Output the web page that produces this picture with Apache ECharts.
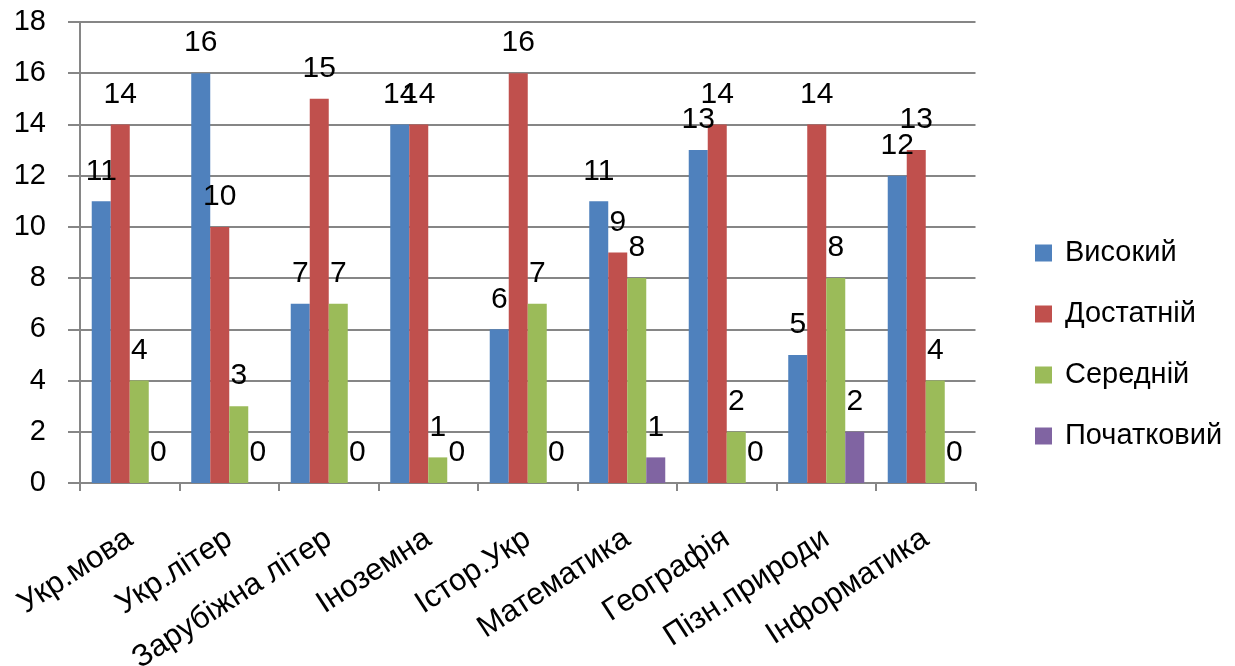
<!DOCTYPE html>
<html>
<head>
<meta charset="utf-8">
<script src="https://cdn.jsdelivr.net/npm/echarts@6/dist/echarts.min.js"></script>
<style>
html,body{margin:0;padding:0;background:#fff;}
#chart{width:1235px;height:666px;}
</style>
</head>
<body>
<div id="chart"></div>
<script>
const categories = ['Укр.мова','Укр.літер','Зарубіжна літер','Іноземна','Істор.Укр','Математика','Географія','Пізн.природи','Інформатика'];
const seriesNames = ['Високий','Достатній','Середній','Початковий'];
const vysokyi = [11,16,7,14,6,11,13,5,12];
const dostatnii = [14,10,15,14,16,9,14,14,13];
const serednii = [4,3,7,1,7,8,2,8,4];
const pochatkovyi = [0,0,0,0,0,1,0,2,0];
const yTicks = [0,2,4,6,8,10,12,14,16,18];
const colors = ['#4F81BD','#C0504D','#9BBB59','#8064A2'];

const FONT = 'Liberation Sans';
const FS = 29;
const gridColor = '#868686';

const seriesData = [vysokyi, dostatnii, serednii, pochatkovyi];

const chart = echarts.init(document.getElementById('chart'));
chart.setOption({
  animation: false,
  color: colors,
  grid: {left: 80, right: 259.5, top: 22, bottom: 183, containLabel: false, outerBoundsMode: 'none'},
  legend: {
    orient: 'vertical',
    left: 1030,
    top: 232,
    icon: 'rect',
    itemWidth: 17,
    itemHeight: 17,
    itemGap: 29,
    data: seriesNames,
    textStyle: {fontFamily: FONT, fontSize: FS, color: '#000', lineHeight: 32, padding: [0,0,0,8]}
  },
  xAxis: {
    type: 'category',
    data: categories,
    boundaryGap: true,
    axisLine: {lineStyle: {color: gridColor, width: 2}},
    axisTick: {show: true, length: 8, alignWithLabel: false, lineStyle: {color: gridColor, width: 2}},
    axisLabel: {rotate: 33, interval: 0, margin: 53, fontFamily: FONT, fontSize: 31, color: '#000'},
    splitLine: {show: false}
  },
  yAxis: {
    type: 'value',
    min: yTicks[0],
    max: yTicks[yTicks.length-1],
    interval: 2,
    axisLine: {show: true, lineStyle: {color: gridColor, width: 2}},
    axisTick: {show: true, length: 12, lineStyle: {color: gridColor, width: 2}},
    axisLabel: {margin: 34, fontFamily: FONT, fontSize: FS, color: '#000'},
    splitLine: {show: true, lineStyle: {color: gridColor, width: 2}}
  },
  series: seriesNames.map((n, i) => ({
    name: n,
    type: 'bar',
    data: seriesData[i],
    barGap: '0%',
    barCategoryGap: '23.6%',
    itemStyle: {color: colors[i]},
    label: {show: true, position: 'top', distance: 15, fontFamily: FONT, fontSize: 30, color: '#000'}
  }))
});
</script>
</body>
</html>
